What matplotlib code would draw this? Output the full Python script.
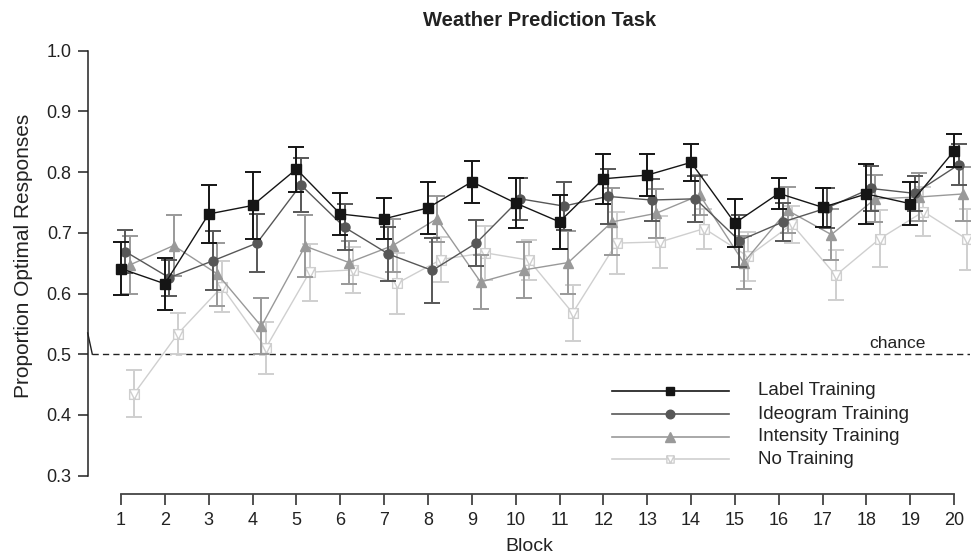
import numpy as np
import matplotlib
matplotlib.use("Agg")
import matplotlib.pyplot as plt
from matplotlib.path import Path
from matplotlib.lines import Line2D

plt.rcParams['font.family'] = ['Liberation Sans', 'DejaVu Sans']

blocks = np.arange(1, 21)
series_names = ["Label Training", "Ideogram Training", "Intensity Training", "No Training"]

label_mean = [0.641, 0.616, 0.731, 0.745, 0.805, 0.731, 0.723, 0.741, 0.784, 0.749,
              0.718, 0.789, 0.795, 0.816, 0.716, 0.765, 0.742, 0.764, 0.748, 0.835]
label_err = [0.044, 0.043, 0.048, 0.055, 0.037, 0.034, 0.034, 0.043, 0.035, 0.041,
             0.044, 0.041, 0.034, 0.030, 0.040, 0.026, 0.032, 0.050, 0.035, 0.027]

ideo_mean = [0.669, 0.626, 0.654, 0.683, 0.779, 0.709, 0.665, 0.638, 0.683, 0.756,
             0.744, 0.760, 0.754, 0.756, 0.687, 0.718, 0.741, 0.773, 0.765, 0.812]
ideo_err = [0.036, 0.030, 0.049, 0.048, 0.045, 0.038, 0.045, 0.054, 0.038, 0.035,
            0.039, 0.045, 0.034, 0.038, 0.043, 0.031, 0.033, 0.037, 0.029, 0.034]

inten_mean = [0.647, 0.679, 0.632, 0.546, 0.678, 0.651, 0.679, 0.723, 0.619, 0.639,
              0.651, 0.718, 0.732, 0.762, 0.651, 0.737, 0.697, 0.756, 0.759, 0.764]
inten_err = [0.047, 0.050, 0.052, 0.046, 0.051, 0.035, 0.043, 0.038, 0.045, 0.046,
             0.052, 0.055, 0.040, 0.033, 0.043, 0.038, 0.042, 0.039, 0.039, 0.045]

none_mean = [0.435, 0.534, 0.611, 0.510, 0.635, 0.639, 0.617, 0.656, 0.667, 0.655,
             0.568, 0.683, 0.685, 0.707, 0.661, 0.714, 0.630, 0.690, 0.735, 0.689]
none_err = [0.039, 0.034, 0.042, 0.043, 0.047, 0.038, 0.050, 0.037, 0.045, 0.033,
            0.046, 0.051, 0.043, 0.033, 0.040, 0.030, 0.041, 0.047, 0.041, 0.050]

y_ticks = [0.3, 0.4, 0.5, 0.6, 0.7, 0.8, 0.9, 1.0]
chance_level = 0.5

# custom "no training" marker: square with inscribed V
verts = [(-1, -1), (1, -1), (1, 1), (-1, 1), (-1, -1), (-1, 1), (0, -1), (1, 1)]
codes = [Path.MOVETO, Path.LINETO, Path.LINETO, Path.LINETO, Path.CLOSEPOLY,
         Path.MOVETO, Path.LINETO, Path.LINETO]
box_v = Path(verts, codes)

W, H = 972, 557
fig = plt.figure(figsize=(W / 100, H / 100), dpi=100)

def fx(px):
    return px / W

def fy(py):
    return 1 - py / H

ax_left, ax_right, ax_top, ax_bot = 87.7, 970, 40, 494.3
ax = fig.add_axes([fx(ax_left), fy(ax_bot), fx(ax_right - ax_left), (ax_bot - ax_top) / H])

px_per_block = 43.85
x0px = 121
ax.set_xlim(1 + (ax_left - x0px) / px_per_block, 1 + (ax_right - x0px) / px_per_block)
px_per_unit = 607
y1px = 50.7
ax.set_ylim(1 - (ax_bot - y1px) / px_per_unit, 1 + (y1px - ax_top) / px_per_unit)

specs = [
    # name, mean, err, offset, color, marker, ms, mfc
    ("No Training", none_mean, none_err, 0.3, "#cfcfcf", box_v, 7, "white"),
    ("Intensity Training", inten_mean, inten_err, 0.2, "#999999", "^", 7, "#999999"),
    ("Ideogram Training", ideo_mean, ideo_err, 0.1, "#575757", "o", 6.5, "#575757"),
    ("Label Training", label_mean, label_err, 0.0, "#151515", "s", 6.5, "#151515"),
]

for z, (name, m, e, off, col, mk, ms, mfc) in enumerate(specs):
    xs = blocks + off
    ax.errorbar(xs, m, yerr=e, fmt="none", ecolor=col, elinewidth=1.4, capsize=5.8,
                capthick=1.4, zorder=2 + z)
    ax.plot(xs, m, color=col, lw=1.0, marker=mk, ms=ms, mfc=mfc, mec=col,
            mew=1.0, zorder=2.5 + z)

# chance line
xl = ax.get_xlim()
x_start = 1 + (92.3 - x0px) / px_per_block
ax.plot([x_start, xl[1]], [chance_level, chance_level], ls=(0, (4.5, 3)), color="#222222",
        lw=1.0, zorder=1)
ax.plot([xl[0], x_start], [0.535, chance_level], color="#222222", lw=1.0, zorder=1,
        clip_on=False)
ax.text(1 + (897 - x0px) / px_per_block, 0.505, "chance", ha="center", va="bottom",
        fontsize=12.5, color="#222222")

# spines and ticks
for s in ["top", "right"]:
    ax.spines[s].set_visible(False)
ax.spines["left"].set_bounds(0.3, 1.0)
ax.spines["bottom"].set_bounds(1, 20)
ax.spines["left"].set_color("#222222")
ax.spines["bottom"].set_color("#444444")
ax.spines["left"].set_linewidth(1.1)
ax.spines["bottom"].set_linewidth(1.3)
ax.set_yticks(y_ticks)
ax.set_yticklabels([f"{v:.1f}" for v in y_ticks])
ax.set_xticks(blocks)
ax.set_xticklabels([str(b) for b in blocks])
ax.tick_params(axis="y", direction="out", length=7.5, width=1.1, color="#222222",
               labelsize=13, pad=4, labelcolor="#222222")
ax.tick_params(axis="x", direction="out", length=8, width=1.1, color="#222222",
               labelsize=13, pad=5, labelcolor="#222222")

ax.set_xlabel("Block", fontsize=14, color="#222222", labelpad=6)
ax.set_ylabel("Proportion Optimal Responses", fontsize=15, color="#222222")
ax.yaxis.set_label_coords((33 - ax_left) / (ax_right - ax_left),
                          (ax_bot - 256) / (ax_bot - ax_top))
fig.text(fx(540), fy(20.7), "Weather Prediction Task", ha="center", va="center",
         fontsize=14.5, fontweight="bold", color="#222222")

# legend drawn manually
leg_rows = [390.7, 414.3, 436.7, 459.3]
leg_specs = list(reversed(specs))
for (name, m, e, off, col, mk, ms, mfc), ry in zip(leg_specs, leg_rows):
    fig.add_artist(Line2D([fx(612), fx(729)], [fy(ry), fy(ry)], color=col, lw=1.2,
                          transform=fig.transFigure))
    msz = ms * 0.75 if name == "No Training" else ms * 0.95
    fig.add_artist(Line2D([fx(670)], [fy(ry)], color=col, marker=mk, ms=msz,
                          mfc=mfc, mec=col, mew=1.0, transform=fig.transFigure))
    fig.text(fx(758), fy(ry), name, ha="left", va="center", fontsize=13.5,
             color="#222222")

fig.savefig("out.png", dpi=100)
